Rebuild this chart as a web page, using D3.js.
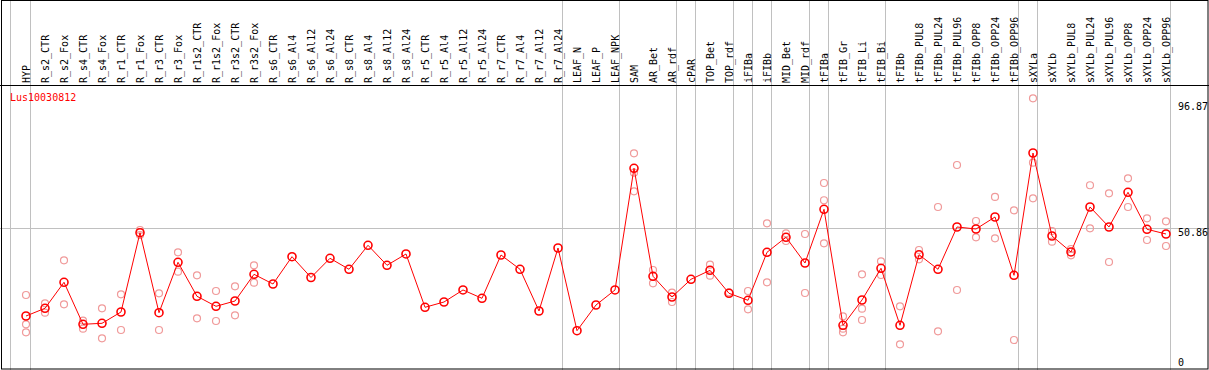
<!DOCTYPE html>
<html>
<head>
<meta charset="utf-8">
<script src="https://cdn.jsdelivr.net/npm/d3@7"></script>
<style>
  body { margin: 0; background: #fff; }
  text { font-family: "DejaVu Sans Mono", monospace; font-size: 10px; }
</style>
</head>
<body>
<div id="chart"></div>
<script>
const categories = ['HYP', 'R_s2_CTR', 'R_s2_Fox', 'R_s4_CTR', 'R_s4_Fox', 'R_r1_CTR', 'R_r1_Fox',
  'R_r3_CTR', 'R_r3_Fox', 'R_r1s2_CTR', 'R_r1s2_Fox', 'R_r3s2_CTR', 'R_r3s2_Fox',
  'R_s6_CTR', 'R_s6_Al4', 'R_s6_Al12', 'R_s6_Al24', 'R_s8_CTR', 'R_s8_Al4', 'R_s8_Al12', 'R_s8_Al24',
  'R_r5_CTR', 'R_r5_Al4', 'R_r5_Al12', 'R_r5_Al24', 'R_r7_CTR', 'R_r7_Al4', 'R_r7_Al12', 'R_r7_Al24',
  'LEAF_N', 'LEAF_P', 'LEAF_NPK', 'SAM', 'AR_Bet', 'AR_rdf', 'cPAR', 'TOP_Bet', 'TOP_rdf',
  'iFIBa', 'iFIBb', 'MID_Bet', 'MID_rdf', 'tFIBa', 'tFIB_Gr', 'tFIB_Li', 'tFIB_Bi', 'tFIBb',
  'tFIBb_PUL8', 'tFIBb_PUL24', 'tFIBb_PUL96', 'tFIBb_OPP8', 'tFIBb_OPP24', 'tFIBb_OPP96',
  'sXYLa', 'sXYLb', 'sXYLb_PUL8', 'sXYLb_PUL24', 'sXYLb_PUL96', 'sXYLb_OPP8', 'sXYLb_OPP24', 'sXYLb_OPP96'];

// mean expression per sample
const means = [19.65, 22.38, 31.61, 16.71, 17.06, 21.07, 49.20, 20.82, 38.70, 26.64, 23.09, 24.97, 34.44,
  31.00, 40.69, 33.31, 40.12, 36.22, 44.73, 37.64, 41.65, 22.74, 24.62, 28.88, 25.93, 41.29, 36.22, 21.43, 43.77,
  14.44, 23.55, 28.88, 72.05, 33.74, 26.39, 32.67, 35.86, 27.70, 25.22, 42.25, 47.57, 38.45, 57.50,
  16.35, 25.33, 36.57, 16.35, 41.40, 36.22, 51.22, 50.51, 54.77, 34.09,
  77.47, 48.03, 42.36, 58.32, 51.22, 63.53, 50.41, 48.74];

// replicate values per sample (empty where none show)
const replicates = [
  [27.10, 16.71, 13.87], [24.16, 20.82], [39.41, 23.80], [17.99, 15.15], [22.38, 11.74], [27.35, 14.69],
  [50.16, 48.39], [27.70, 14.69], [42.25, 35.37], [34.09, 18.84], [28.52, 17.88], [30.19, 19.90], [37.64, 31.47],
  [], [], [], [], [], [], [], [], [], [], [], [], [], [], [], [],
  [], [], [], [77.37, 70.49, 63.89], [35.97, 31.25], [27.92, 24.62], [], [37.85, 33.95], [28.06],
  [28.52, 22.03], [52.54, 31.61], [48.99, 46.26], [48.74, 27.81], [66.83, 60.70, 45.44],
  [19.55, 15.15, 13.87], [34.44, 22.24, 18.23], [39.06, 34.20], [23.09, 9.61],
  [43.07, 39.77], [58.32, 14.22], [73.22, 28.88], [53.35, 47.57], [61.87, 47.22], [57.15, 11.14],
  [96.87, 74.03, 61.40], [49.80, 46.01], [43.42, 41.19], [66.02, 50.76], [63.18, 38.81], [68.50, 58.32],
  [54.31, 46.61], [53.25, 44.48]];

// last sample of each tissue group
const groupEnds = ['HYP', 'R_r7_Al24', 'LEAF_NPK', 'AR_rdf', 'cPAR', 'TOP_rdf', 'iFIBa', 'iFIBb', 'MID_rdf',
  'tFIBa', 'tFIB_Bi', 'tFIBb_OPP96', 'sXYLa', 'sXYLb_OPP96'];

const yTicks = [96.87, 50.86, 0];
const title = 'Lus10030812';

const width = 1209, height = 370;
const headerY = 85;

const svg = d3.select('#chart')
  .append('svg')
  .attr('width', width)
  .attr('height', height);

const x = d3.scalePoint()
  .domain(categories)
  .range([26, 1166]);

const y = d3.scaleLinear()
  .domain([0, 96.87])
  .range([371.4, 98.3]);

// group separators
const seps = [x(categories[0]) - 16].concat(groupEnds.map(g => x(g) + 4));
svg.selectAll('line.sep')
  .data(seps)
  .enter()
  .append('line')
  .attr('x1', d => Math.round(d) + 0.5)
  .attr('x2', d => Math.round(d) + 0.5)
  .attr('y1', 0)
  .attr('y2', height)
  .attr('stroke', '#c0c0c0')
  .attr('stroke-width', 1);

// mid grid line
svg.append('line')
  .attr('x1', 0)
  .attr('x2', width)
  .attr('y1', Math.round(y(yTicks[1])) + 0.5)
  .attr('y2', Math.round(y(yTicks[1])) + 0.5)
  .attr('stroke', '#c0c0c0');

// frame
svg.append('rect')
  .attr('x', 1.5)
  .attr('y', 0.5)
  .attr('width', width - 2.5)
  .attr('height', height - 1.5)
  .attr('fill', 'none')
  .attr('stroke', '#000');

svg.append('line')
  .attr('x1', 0)
  .attr('x2', width)
  .attr('y1', headerY + 0.5)
  .attr('y2', headerY + 0.5)
  .attr('stroke', '#000');

// sample labels
svg.selectAll('text.cat')
  .data(categories)
  .enter()
  .append('text')
  .attr('class', 'cat')
  .attr('transform', d => `translate(${x(d) + 3.5},${headerY - 2}) rotate(-90)`)
  .attr('fill', '#000')
  .text(d => d);

// title
svg.append('text')
  .attr('x', 10)
  .attr('y', 100.5)
  .attr('fill', '#ff0000')
  .text(title);

// y labels
const yOff = [12, 8, -5];
svg.selectAll('text.ytick')
  .data(yTicks)
  .enter()
  .append('text')
  .attr('class', 'ytick')
  .attr('x', 1178)
  .attr('y', (d, i) => y(d) + yOff[i])
  .attr('fill', '#000')
  .text(d => d === 0 ? '0' : d.toFixed(2));

// replicates
const reps = [];
replicates.forEach((arr, i) => arr.forEach(v => reps.push({c: categories[i], v: v})));
svg.selectAll('circle.rep')
  .data(reps)
  .enter()
  .append('circle')
  .attr('cx', d => x(d.c))
  .attr('cy', d => y(d.v))
  .attr('r', 3.5)
  .attr('fill', 'none')
  .attr('stroke', '#f09a9a')
  .attr('stroke-width', 1.2);

// mean line
const line = d3.line()
  .x((d, i) => x(categories[i]))
  .y(d => y(d));

svg.append('path')
  .datum(means)
  .attr('d', line)
  .attr('fill', 'none')
  .attr('stroke', '#ff0000')
  .attr('stroke-width', 1);

svg.selectAll('circle.mean')
  .data(means)
  .enter()
  .append('circle')
  .attr('cx', (d, i) => x(categories[i]))
  .attr('cy', d => y(d))
  .attr('r', 4)
  .attr('fill', 'none')
  .attr('stroke', '#ff0000')
  .attr('stroke-width', 1.6);
</script>
</body>
</html>
